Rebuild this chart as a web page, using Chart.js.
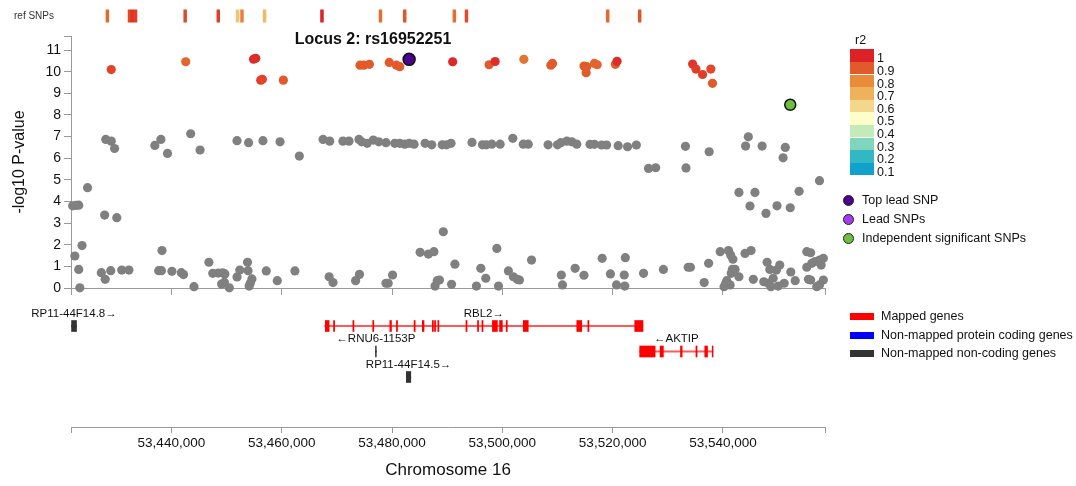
<!DOCTYPE html>
<html>
<head>
<meta charset="utf-8">
<script src="https://cdn.jsdelivr.net/npm/chart.js@4.4.1/dist/chart.umd.min.js"></script>
<style>
  body { margin: 0; background: #fff; font-family: "Liberation Sans", Arial, sans-serif; }
  #wrap { position: relative; width: 1076px; height: 486px; overflow: hidden; }
  canvas { position: absolute; left: 0; }
  .txt { position: absolute; white-space: nowrap; color: #111; transform: translateY(-50%); }
  .dot { position: absolute; width: 9px; height: 9px; border-radius: 50%; border: 1px solid #222; }
  .bar { position: absolute; width: 24px; height: 7px; }
</style>
</head>
<body>
<div id="wrap">
  <canvas id="refChart" width="1076" height="30" style="top:0"></canvas>
  <canvas id="mainChart" width="1076" height="300" style="top:0"></canvas>
  <canvas id="geneChart" width="1076" height="191" style="top:295px"></canvas>

  <div class="txt" style="left:14px;top:15px;font-size:10px;color:#333">ref SNPs</div>
  <div class="txt" style="left:373px;top:39px;transform:translate(-50%,-50%);font-weight:bold;font-size:16px">Locus 2: rs16952251</div>

  <div class="txt" style="left:855px;top:40px;font-size:12.5px">r2</div>
  <div id="r2legend"></div>

  <div class="dot" style="left:843px;top:195px;background:#4b0091"></div>
  <div class="txt" style="left:862px;top:200px;font-size:12.5px">Top lead SNP</div>
  <div class="dot" style="left:843px;top:214px;background:#a23cf0"></div>
  <div class="txt" style="left:862px;top:219px;font-size:12.5px">Lead SNPs</div>
  <div class="dot" style="left:843px;top:233px;background:#6cbf3f"></div>
  <div class="txt" style="left:862px;top:238px;font-size:12.5px">Independent significant SNPs</div>

  <div class="bar" style="left:850px;top:313px;background:#ff0000"></div>
  <div class="txt" style="left:881px;top:316px;font-size:12.5px">Mapped genes</div>
  <div class="bar" style="left:850px;top:332px;background:#0000ff"></div>
  <div class="txt" style="left:881px;top:335px;font-size:12.5px">Non-mapped protein coding genes</div>
  <div class="bar" style="left:850px;top:350px;background:#333333"></div>
  <div class="txt" style="left:881px;top:353px;font-size:12.5px">Non-mapped non-coding genes</div>
</div>

<script>
Chart.defaults.font.family = '"Liberation Sans", Arial, sans-serif';

const xMin = 53421800, xMax = 53558500;
const xTicks = [53440000, 53460000, 53480000, 53500000, 53520000, 53540000];
const yTicks = [0, 1, 2, 3, 4, 5, 6, 7, 8, 9, 10, 11];
const yMax = 11.65;

// r2 legend steps
const r2Levels = [1, 0.9, 0.8, 0.7, 0.6, 0.5, 0.4, 0.3, 0.2, 0.1];
const r2Colors = ['#dd2227', '#e35a2a', '#ea8b3a', '#eeb25b', '#f3d78c',
                  '#fefec8', '#c3ebba', '#80d5bd', '#31b8c3', '#12a1cd'];

// reference SNPs: [position, r2]
const refSnps = [
  [53428400, 0.87], [53432400, 0.93], [53432900, 0.97], [53433500, 0.95],
  [53442500, 0.93], [53448500, 0.95], [53452000, 0.65], [53452800, 0.82],
  [53456900, 0.68], [53467300, 1.00], [53477900, 0.86], [53482300, 0.91],
  [53491300, 0.86], [53493500, 0.93], [53519100, 0.87], [53524900, 0.91]
];

// SNPs in LD with the lead: [position, -log10 P, r2]
const ldSnps = [
  [53429100, 10.10, 0.94], [53442600, 10.46, 0.88], [53454900, 10.58, 0.99], [53455300, 10.62, 0.98],
  [53456200, 9.61, 0.95], [53456500, 9.65, 0.94], [53460300, 9.61, 0.90], [53474200, 10.30, 0.90],
  [53474900, 10.30, 0.90], [53475900, 10.34, 0.90], [53479500, 10.43, 0.90], [53480800, 10.30, 0.90],
  [53481400, 10.23, 0.90], [53491000, 10.46, 0.99], [53497600, 10.32, 0.90], [53498700, 10.47, 0.98],
  [53503900, 10.57, 0.85], [53508800, 10.30, 0.90], [53509100, 10.38, 0.90], [53514800, 10.26, 0.90],
  [53515200, 9.95, 0.90], [53515300, 10.23, 0.90], [53516700, 10.38, 0.88], [53517200, 10.32, 0.88],
  [53520500, 10.34, 0.90], [53520800, 10.48, 0.98], [53534500, 10.35, 0.96], [53535100, 10.12, 0.95],
  [53536300, 9.87, 0.95], [53537800, 10.12, 0.93], [53538100, 9.46, 0.90]
];

const topLead = [[53483100, 10.57]];
const indepSnps = [[53552200, 8.47]];

// other SNPs (grey): [position, -log10 P]
const otherSnps = [
  [53422100,3.80],[53422700,3.82],[53423200,3.83],[53422500,1.48],[53423200,0.86],[53423400,0.01],
  [53423800,1.96],[53424800,4.64],[53427300,0.71],[53428000,0.40],[53427900,3.37],[53428100,6.87],
  [53429000,0.80],[53429100,6.79],[53429700,6.45],[53430100,3.25],[53431000,0.83],[53432300,0.83],
  [53437000,6.59],[53437700,0.80],[53438100,6.87],[53438200,0.80],[53438300,1.73],[53439300,6.22],
  [53440100,0.77],[53441800,0.71],[53442200,0.62],[53443500,7.13],[53444100,0.06],[53445200,6.38],
  [53446800,1.19],[53447500,0.68],[53448500,0.69],[53449100,0.18],[53449300,0.70],[53449600,0.26],
  [53449700,0.65],[53450500,0.01],[53451900,0.51],[53451900,6.81],[53452400,0.83],[53453800,1.19],
  [53453900,0.80],[53454000,6.72],[53454100,0.09],[53454300,0.22],[53454600,0.42],[53456600,6.81],
  [53457200,0.79],[53459200,0.34],[53459700,6.76],[53462400,0.79],[53463200,6.10],[53467500,6.87],
  [53468600,0.52],[53468700,6.79],[53469300,0.25],[53471100,6.79],[53472200,6.79],[53473400,0.34],
  [53474000,6.87],[53474100,0.63],[53474500,6.76],[53475500,6.69],[53476600,6.84],[53477600,6.76],
  [53478900,6.72],[53478900,0.22],[53479300,0.22],[53480100,0.60],[53480500,6.69],[53481400,6.69],
  [53482300,6.65],[53483100,6.69],[53484000,6.65],[53485100,1.65],[53486000,6.69],[53486600,1.57],
  [53487200,6.62],[53487600,1.68],[53487800,0.09],[53488200,0.34],[53488600,0.37],[53489100,6.62],
  [53489300,2.60],[53489900,6.62],[53490700,6.69],[53490800,0.17],[53491400,1.10],[53494500,6.73],
  [53495300,0.09],[53496100,0.91],[53496400,6.62],[53497000,0.45],[53497100,6.62],[53498100,6.65],
  [53499000,1.83],[53499300,0.09],[53499600,6.65],[53501100,0.79],[53501900,6.92],[53502000,0.52],
  [53502700,0.40],[53503100,0.37],[53503800,6.65],[53504700,6.65],[53505300,1.29],[53508300,6.62],
  [53510000,6.62],[53510600,6.72],[53510700,0.60],[53510900,0.14],[53511700,6.79],[53512600,6.76],
  [53513200,0.91],[53513500,6.65],[53514800,0.59],[53515900,6.64],[53516700,6.64],[53518000,6.61],
  [53518100,1.37],[53518900,6.61],[53519600,0.65],[53520700,0.14],[53521000,6.58],[53522100,0.60],
  [53522200,0.09],[53522300,1.40],[53522700,6.53],[53524300,6.61],[53525600,0.68],[53526500,5.53],
  [53527800,5.56],[53529200,0.86],[53533200,6.55],[53533300,5.55],[53533700,0.96],[53534100,0.96],
  [53536600,0.25],[53537400,1.14],[53537500,6.30],[53539500,1.68],[53540200,0.06],[53540500,0.22],
  [53540700,0.34],[53541000,1.73],[53541400,1.52],[53541300,0.14],[53541500,0.68],[53541700,0.86],
  [53541800,1.33],[53542200,0.86],[53542900,0.52],[53542900,4.42],[53544000,1.60],[53544100,6.56],
  [53544600,6.99],[53544900,3.79],[53545100,1.73],[53545500,0.40],[53545800,4.42],[53547100,6.56],
  [53547400,0.29],[53547800,3.45],[53548000,1.19],[53548200,0.22],[53548500,0.86],[53548700,0.06],
  [53549100,0.45],[53549700,0.83],[53549800,3.80],[53550000,0.09],[53550300,1.06],[53550900,6.02],
  [53551100,0.22],[53551300,6.50],[53552200,3.71],[53552300,0.74],[53553100,0.34],[53553800,4.47],
  [53555200,1.68],[53555200,0.96],[53555500,0.40],[53555900,1.63],[53555900,0.37],[53556100,1.14],
  [53556700,1.22],[53557000,0.06],[53557500,1.29],[53557500,0.14],[53557500,4.96],[53557800,1.06],
  [53558200,1.37],[53558200,0.37]
];

// genes in the region
const genes = [
  { name: 'RP11-44F14.8', strand: '+', row: 1, type: 'noncoding', start: 53421900, end: 53422800,
    exons: [[53421900, 53422800]] },
  { name: 'RBL2', strand: '+', row: 1, type: 'mapped', start: 53467800, end: 53525500,
    exons: [[53467900, 53468600], [53469400, 53469600], [53472900, 53473100], [53476500, 53476700],
            [53479600, 53479900], [53480800, 53481000], [53484000, 53484200], [53485500, 53485800],
            [53487300, 53487500], [53487700, 53487900], [53488300, 53488500], [53493400, 53493600],
            [53495500, 53495700], [53496300, 53496500], [53498200, 53499100], [53499500, 53500000],
            [53500700, 53500900], [53503800, 53504700], [53513500, 53514400], [53515500, 53515700],
            [53524000, 53525500]] },
  { name: 'RNU6-1153P', strand: '-', row: 2, type: 'noncoding', start: 53477000, end: 53477150,
    exons: [[53477000, 53477150]] },
  { name: 'AKTIP', strand: '-', row: 2, type: 'mapped', start: 53524900, end: 53538200,
    exons: [[53524900, 53527700], [53528600, 53529200], [53532300, 53532600], [53535100, 53535300],
            [53536700, 53537200], [53538050, 53538200]] },
  { name: 'RP11-44F14.5', strand: '+', row: 3, type: 'noncoding', start: 53482600, end: 53483400,
    exons: [[53482600, 53483400]] }
];
const geneTypeColors = { mapped: '#ff0000', coding: '#0000ff', noncoding: '#333333' };

function hexToRgb(h) {
  return [parseInt(h.slice(1, 3), 16), parseInt(h.slice(3, 5), 16), parseInt(h.slice(5, 7), 16)];
}
function r2Color(v) {
  let i = Math.floor((1 - v) * 10 + 1e-9);
  i = Math.max(0, Math.min(8, i));
  const t = Math.max(0, Math.min(1, (r2Levels[i] - v) / 0.1));
  const a = hexToRgb(r2Colors[i]), b = hexToRgb(r2Colors[i + 1]);
  const c = a.map((x, k) => Math.round(x + (b[k] - x) * t));
  return 'rgb(' + c.join(',') + ')';
}

// r2 colour key
const keyBox = document.getElementById('r2legend');
r2Levels.forEach((lv, i) => {
  const band = document.createElement('div');
  band.style.cssText = 'position:absolute;left:850px;width:24px;height:12.6px;top:' + (49.3 + i * 12.6) + 'px;background:' + r2Colors[i];
  keyBox.appendChild(band);
  const lab = document.createElement('div');
  lab.className = 'txt';
  lab.style.cssText = 'left:877px;font-size:12.5px;top:' + (58.3 + i * 12.6) + 'px';
  lab.textContent = String(lv);
  keyBox.appendChild(lab);
});

const boundTicks = s => { s.ticks = [xMin, ...xTicks, xMax].map(v => ({ value: v })); };
const axisGrey = '#9a9a9a';

// ref SNPs strip
new Chart(document.getElementById('refChart'), {
  type: 'scatter',
  data: {
    datasets: [{
      data: refSnps.map(d => ({ x: d[0], y: 0.5 })),
      pointStyle: 'line',
      rotation: 90,
      radius: 6.5,
      borderWidth: 3.5,
      borderColor: refSnps.map(d => r2Color(d[1])),
      clip: false
    }]
  },
  options: {
    responsive: false,
    animation: false,
    layout: { padding: { left: 71, right: 251, top: 12, bottom: 5 } },
    plugins: { legend: { display: false }, tooltip: { enabled: false } },
    scales: {
      x: { type: 'linear', min: xMin, max: xMax, display: false },
      y: { min: 0, max: 1, display: false }
    }
  }
});

// association plot
new Chart(document.getElementById('mainChart'), {
  type: 'scatter',
  data: {
    datasets: [
      {
        data: topLead.map(d => ({ x: d[0], y: d[1] })),
        backgroundColor: '#4b0091', borderColor: '#111', borderWidth: 1.5, radius: 6, clip: false
      },
      {
        data: indepSnps.map(d => ({ x: d[0], y: d[1] })),
        backgroundColor: '#6cbf3f', borderColor: '#111', borderWidth: 1.5, radius: 5.5, clip: false
      },
      {
        data: ldSnps.map(d => ({ x: d[0], y: d[1] })),
        backgroundColor: ldSnps.map(d => r2Color(d[2])), borderWidth: 0, radius: 4.6, clip: false
      },
      {
        data: otherSnps.map(d => ({ x: d[0], y: d[1] })),
        backgroundColor: '#808080', borderWidth: 0, radius: 4.6, clip: false
      }
    ]
  },
  options: {
    responsive: false,
    animation: false,
    layout: { padding: { left: 0, right: 251, top: 36, bottom: 0 } },
    plugins: { legend: { display: false }, tooltip: { enabled: false } },
    scales: {
      x: {
        type: 'linear', min: xMin, max: xMax,
        afterBuildTicks: boundTicks,
        afterFit: s => { s.height = 12; },
        ticks: { display: false },
        grid: { drawOnChartArea: false, tickLength: 7, color: axisGrey },
        border: { color: axisGrey }
      },
      y: {
        min: 0, max: yMax,
        afterBuildTicks: s => { s.ticks = [...yTicks, yMax].map(v => ({ value: v })); },
        afterFit: s => { s.width = 71; },
        ticks: { font: { size: 14 }, color: '#111', padding: 3, callback: v => yTicks.includes(v) ? v : '' },
        title: { display: true, text: '-log10 P-value', font: { size: 16 }, color: '#111', padding: { top: 10 } },
        grid: { drawOnChartArea: false, tickLength: 7, color: axisGrey },
        border: { color: axisGrey }
      }
    }
  }
});

// gene track
const geneLabels = {
  id: 'geneLabels',
  afterDatasetsDraw(chart) {
    const { ctx, scales: { x, y } } = chart;
    ctx.save();
    ctx.font = '11.5px "Liberation Sans", Arial, sans-serif';
    ctx.fillStyle = '#111';
    ctx.textAlign = 'center';
    ctx.textBaseline = 'middle';
    genes.forEach(g => {
      const txt = g.strand === '+' ? g.name + '\u2192' : '\u2190' + g.name;
      ctx.fillText(txt, x.getPixelForValue((g.start + g.end) / 2), y.getPixelForValue(g.row) - 12.5);
    });
    ctx.restore();
  }
};

const exonRows = [];
genes.forEach(g => g.exons.forEach(e => exonRows.push({ x: e, y: g.row, c: geneTypeColors[g.type] })));

new Chart(document.getElementById('geneChart'), {
  type: 'bar',
  data: {
    datasets: [
      {
        data: genes.map(g => ({ x: [g.start, g.end], y: g.row })),
        backgroundColor: genes.map(g => g.type === 'mapped' ? 'rgba(255,0,0,0.65)' : geneTypeColors[g.type]),
        barThickness: 1.5, grouped: false
      },
      {
        data: exonRows.map(d => ({ x: d.x, y: d.y })),
        backgroundColor: exonRows.map(d => d.c),
        barThickness: 11, grouped: false
      }
    ]
  },
  options: {
    indexAxis: 'y',
    responsive: false,
    animation: false,
    layout: { padding: { left: 71, right: 251, top: 5, bottom: 0 } },
    plugins: { legend: { display: false }, tooltip: { enabled: false } },
    scales: {
      x: {
        type: 'linear', position: 'bottom', min: xMin, max: xMax,
        afterBuildTicks: boundTicks,
        afterFit: s => { s.height = 59; },
        ticks: {
          font: { size: 13.5 }, color: '#111', padding: 2, maxRotation: 0, autoSkip: false,
          callback: v => xTicks.includes(v) ? v.toLocaleString('en-US') : ''
        },
        title: { display: true, text: 'Chromosome 16', font: { size: 17 }, color: '#111', padding: { top: 0, bottom: 5 } },
        grid: { drawOnChartArea: false, tickLength: 6, color: axisGrey },
        border: { color: axisGrey }
      },
      y: {
        type: 'linear', display: false, reverse: true, offset: false, bounds: 'data',
        min: -0.02, max: 4.96,
        afterBuildTicks: s => { s.ticks = [{ value: -0.02 }, { value: 4.96 }]; }
      }
    }
  },
  plugins: [geneLabels]
});
</script>
</body>
</html>
